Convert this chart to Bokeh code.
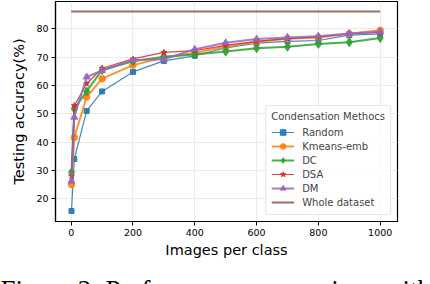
from bokeh.plotting import figure
from bokeh.models import Range1d, Legend, LegendItem, Title, FixedTicker
from bokeh.embed import file_html
from bokeh.resources import INLINE

images_per_class = [1, 10, 50, 100, 200, 300, 400, 500, 600, 700, 800, 900, 1000]
random_acc = [15.6, 34.0, 51.0, 57.9, 64.8, 68.7, 70.5, 73.3, 75.0, 75.6, 75.9, 77.8, 78.2]
kmeans_acc = [25.0, 41.6, 55.9, 62.4, 67.2, 69.9, 71.5, 73.8, 75.5, 76.5, 77.0, 78.3, 79.5]
dc_acc = [29.3, 51.8, 57.9, 65.5, 68.6, 70.2, 71.0, 72.0, 73.2, 73.7, 74.7, 75.3, 76.8]
dsa_acc = [28.0, 52.9, 60.6, 66.1, 69.4, 71.7, 72.3, 74.2, 75.6, 76.6, 77.2, 78.3, 78.7]
dm_acc = [26.2, 48.8, 63.0, 65.3, 69.0, 69.3, 72.8, 75.1, 76.4, 77.0, 77.4, 78.4, 79.0]
whole_x = [0, 1000]
whole_acc = [86.2, 86.2]

x_ticks = [0, 200, 400, 600, 800, 1000]
y_ticks = [20, 30, 40, 50, 60, 70, 80]

FONT = "DejaVu Sans"

p = figure(width=422, height=316, output_backend="svg", toolbar_location=None,
           x_range=Range1d(-50.8, 1056), y_range=Range1d(11.9, 89.7),
           min_border_left=55, min_border_right=25, min_border_top=1, min_border_bottom=10)

p.outline_line_color = "black"
p.outline_line_width = 1.2
p.background_fill_color = "white"
p.border_fill_color = "white"

for ax in (p.xaxis[0], p.yaxis[0]):
    ax.axis_line_color = "black"
    ax.axis_line_width = 1.2
    ax.major_tick_line_color = "black"
    ax.major_tick_out = 4
    ax.major_tick_in = 0
    ax.minor_tick_line_color = None
    ax.major_label_text_font = FONT
    ax.major_label_text_font_size = "9.5px"
    ax.major_label_text_color = "black"
    ax.axis_label_text_font = FONT
    ax.axis_label_text_font_size = "14.5px"
    ax.axis_label_text_font_style = "normal"
    ax.axis_label_text_color = "black"

p.xaxis[0].ticker = FixedTicker(ticks=x_ticks)
p.yaxis[0].ticker = FixedTicker(ticks=y_ticks)
p.xaxis[0].axis_label = "Images per class"
p.yaxis[0].axis_label = "Testing accuracy(%)"
p.xaxis[0].major_label_standoff = 3
p.yaxis[0].major_label_standoff = 3
p.xaxis[0].axis_label_standoff = 3
p.yaxis[0].axis_label_standoff = 6

p.xgrid.ticker = FixedTicker(ticks=x_ticks)
p.ygrid.ticker = FixedTicker(ticks=y_ticks)
p.grid.grid_line_color = "#ebebeb"
p.grid.grid_line_width = 1

series = [
    ("Random", random_acc, "#1f77b4", "square", 5, 1.2),
    ("Kmeans-emb", kmeans_acc, "#ff7f0e", "circle", 6.5, 2.0),
    ("DC", dc_acc, "#2ca02c", "diamond", 9, 2.0),
    ("DSA", dsa_acc, "#d62728", "star", 6, 1.2),
    ("DM", dm_acc, "#9467bd", "triangle", 7, 2.0),
]

items = []
for name, ys, color, marker, size, lw in series:
    r1 = p.line(images_per_class, ys, line_color=color, line_width=lw, line_alpha=0.85)
    r2 = p.scatter(images_per_class, ys, marker=marker, size=size, fill_color=color,
                   line_color=color, fill_alpha=0.9, line_alpha=0.9)
    items.append(LegendItem(label=name, renderers=[r1, r2]))

rw = p.line(whole_x, whole_acc, line_color="#8c564b", line_width=2, line_alpha=0.85)
items.append(LegendItem(label="Whole dataset", renderers=[rw]))

legend = Legend(items=items, location="bottom_right", title="Condensation Methocs")
legend.title_text_font = FONT
legend.title_text_font_size = "10px"
legend.title_text_font_style = "normal"
legend.title_standoff = 3
legend.label_text_font = FONT
legend.label_text_font_size = "10px"
legend.label_height = 14
legend.glyph_height = 14
legend.glyph_width = 23
legend.label_standoff = 8
legend.spacing = 0
legend.padding = 5
legend.margin = 6
legend.border_line_color = "#cccccc"
legend.border_line_width = 1
legend.border_radius = 3
legend.background_fill_alpha = 0.8
p.add_layout(legend)

caption = Title(text="Figure 2: Performance comparison with", align="left",
                text_font="Liberation Serif", text_font_size="27px",
                text_font_style="normal", text_color="black", offset=-55, standoff=24)
p.add_layout(caption, "below")

open("out.html", "w").write(file_html(p, INLINE))
